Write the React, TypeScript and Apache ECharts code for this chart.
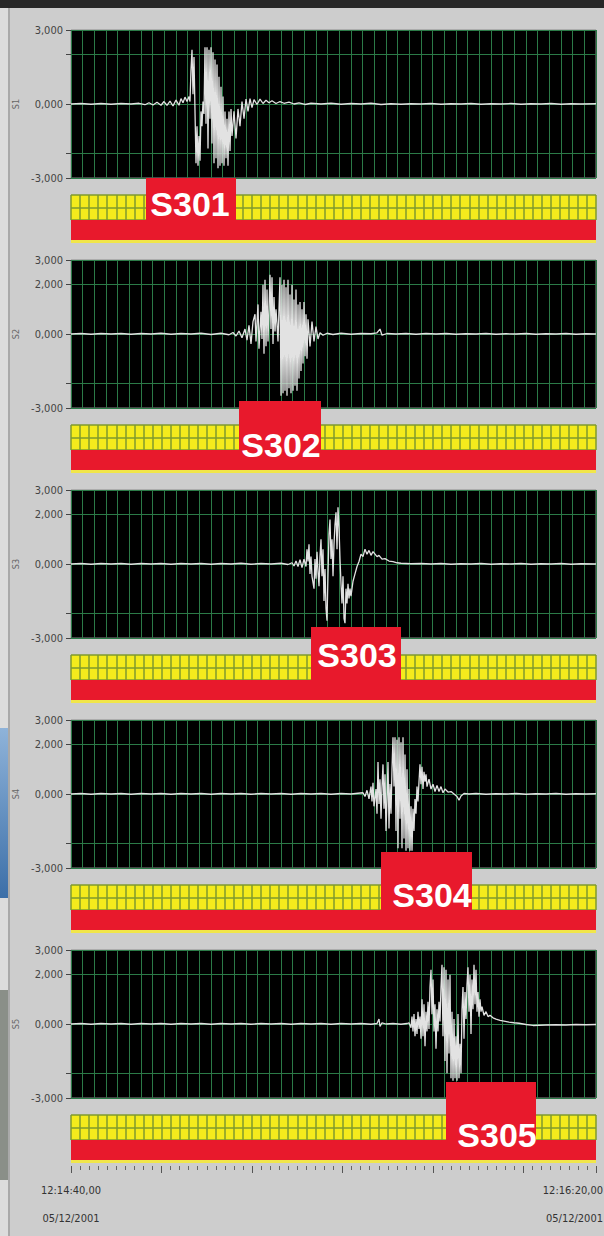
import React, { useEffect, useRef } from 'react';
import * as echarts from 'echarts';

// ---------- data ----------
const seriesNames = ['S1', 'S2', 'S3', 'S4', 'S5'];
const tagNames = ['S301', 'S302', 'S303', 'S304', 'S305'];
const yLabelsFirst = [-3, 0, 3];
const yLabelsOther = [-3, 0, 2, 3];
const yTickValues = [-3, -2, 0, 2, 3];
const timeStartLabel = ['12:14:40,00', '05/12/2001'];
const timeEndLabel = ['12:16:20,00', '05/12/2001'];

// x = sample position along the trace (0..525), y = amplitude
const s1: number[][] = [
  [0, 0], [10, 0.02], [20, -0.01], [30, 0.02], [40, -0.01], [50, 0.02], [60, 0], [68, 0.03], [74, -0.03], [78, 0.05],
  [82, -0.04], [86, 0.07], [90, -0.05], [93, 0.1], [96, -0.06], [99, 0.12], [102, -0.08], [105, 0.16], [108, -0.05], [110, 0.22],
  [112, 0.05], [114, 0.28], [116, 0.1], [118, 0.3], [119, 0.1], [120, 1.4], [121, 2.2], [122, 0.4], [123, 1.9], [124, -0.3],
  [125, -2.4], [126, -0.9], [127, -2.5], [128, -1.3], [129, -2.3], [130, -0.3], [131, -0.9], [132, 0.1], [133, -0.4], [134, 2.3],
  [135, -0.8], [136, 2.3], [137, -1.8], [138, 2.2], [139, -0.6], [140, 2.3], [141, -1.6], [142, 2.1], [143, -2.4], [144, 1.8],
  [145, -2.2], [146, 1.6], [147, -2.6], [148, 1.1], [149, -2.5], [150, 0.7], [151, -2.4], [152, 0.3], [153, -2.5], [154, -0.3],
  [155, -2.2], [156, -0.6], [157, -2.5], [158, -0.3], [159, -1.9], [160, -0.2], [161, -1.3], [163, -0.3], [165, -1.4], [167, -0.2],
  [169, -0.9], [171, 0.1], [173, -0.6], [175, 0.2], [177, -0.3], [179, 0.22], [181, -0.15], [183, 0.18], [186, -0.02], [189, 0.2],
  [192, 0.02], [195, 0.15], [198, 0.05], [201, 0.13], [205, 0.02], [209, 0.1], [213, 0.03], [218, 0.08], [223, 0], [228, 0.05],
  [234, -0.02], [240, 0.03], [250, 0], [260, 0.03], [270, -0.01], [280, 0.02], [290, 0], [300, 0.03], [310, -0.02], [320, 0.01],
  [330, -0.01], [340, 0.01], [350, 0], [360, 0.02], [370, -0.01], [380, 0.01], [390, 0], [400, 0.02], [410, -0.01], [420, 0.01],
  [430, 0], [440, 0.02], [450, -0.01], [460, 0.01], [470, 0], [480, 0.02], [490, -0.01], [500, 0.01], [510, 0], [525, 0.01],
];

const s2: number[][] = [
  [0, 0], [10, 0.02], [20, -0.01], [30, 0.02], [40, 0], [50, 0.02], [60, -0.01], [70, 0.02], [80, 0], [90, 0.03],
  [100, -0.01], [110, 0.02], [120, 0], [130, 0.03], [140, -0.02], [150, 0.03], [158, -0.03], [162, 0.06], [165, -0.08], [168, 0.12],
  [171, -0.15], [174, 0.2], [176, -0.25], [178, 0.35], [180, -0.4], [182, 0.5], [184, 0.8], [185, -0.3], [187, 1.2], [188, -0.6],
  [190, 0.9], [191, -0.2], [192, 2.0], [193, -0.8], [194, 2.2], [195, -0.5], [196, 1.8], [197, -0.3], [199, 2.4], [200, 0.2],
  [201, 2.3], [202, -0.4], [203, 1.5], [204, 0.1], [205, 1.0], [206, 0.4], [207, -0.3], [208, 1.0], [209, 2.3], [210, -2.5],
  [211, 2.0], [212, -2.4], [213, 2.2], [214, -2.3], [215, 1.9], [216, -2.5], [217, 2.2], [218, -2.2], [219, 1.6], [220, -2.4],
  [221, 2.0], [222, -2.3], [223, 1.4], [224, -2.1], [225, 1.8], [226, -2.3], [227, 1.2], [228, -1.8], [229, 1.3], [230, -1.5],
  [231, 1.0], [232, -1.2], [233, 1.3], [234, -0.9], [235, 0.8], [236, -1.0], [237, 0.6], [239, -0.5], [241, 0.5], [243, -0.3],
  [245, 0.3], [247, -0.2], [249, 0.05], [252, -0.05], [256, 0.03], [262, -0.02], [270, 0.03], [280, -0.01], [290, 0.02], [300, 0.01],
  [306, 0.05], [309, 0.2], [311, -0.05], [316, 0.02], [325, 0], [335, 0.02], [345, -0.01], [355, 0.02], [365, 0], [375, 0.02],
  [385, -0.01], [395, 0.01], [405, 0], [415, 0.02], [425, -0.01], [435, 0.01], [445, 0], [455, 0.02], [465, -0.01], [475, 0.01],
  [485, 0], [495, 0.02], [505, -0.01], [515, 0.01], [525, 0],
];

const s3: number[][] = [
  [0, 0], [10, 0.02], [20, -0.01], [30, 0.02], [40, 0], [50, 0.02], [60, -0.01], [70, 0.02], [80, 0], [90, 0.02],
  [100, -0.01], [110, 0.02], [120, 0], [130, 0.02], [140, -0.01], [150, 0.02], [160, 0], [170, 0.03], [180, -0.01], [190, 0.02],
  [200, 0], [210, 0.03], [217, -0.02], [221, 0.05], [223, -0.08], [225, 0.12], [227, -0.1], [229, 0.18], [231, -0.15], [233, 0.2],
  [235, -0.1], [236, 0.6], [237, 0.1], [238, 0.8], [239, -0.4], [240, 0.3], [241, -0.5], [243, -1.0], [244, 0.2], [245, -0.6],
  [246, 0.5], [247, -0.3], [248, -0.9], [249, 0.3], [250, 1.0], [251, -0.5], [252, 0.6], [253, -1.5], [254, -0.2], [255, -1.8],
  [256, -2.3], [257, -0.4], [258, 1.2], [259, 1.8], [260, 0.2], [261, 1.0], [262, -0.5], [263, 0.8], [264, 1.6], [265, 2.1],
  [266, 0.6], [267, 2.3], [268, 1.5], [269, 0.2], [270, -0.8], [271, -1.6], [272, -0.5], [273, -2.2], [274, -2.4], [275, -1.0],
  [276, -1.6], [277, -0.8], [278, -1.4], [279, -1.0], [280, -1.3], [282, -0.7], [284, -0.4], [286, -0.1], [288, 0.1], [290, 0.4],
  [292, 0.3], [294, 0.6], [296, 0.4], [298, 0.55], [300, 0.35], [302, 0.5], [304, 0.4], [306, 0.3], [308, 0.35], [311, 0.2],
  [314, 0.22], [318, 0.12], [322, 0.1], [326, 0.05], [330, 0.03], [340, 0.01], [350, 0.02], [360, 0], [370, 0.02], [380, -0.01],
  [390, 0.01], [400, 0], [410, 0.02], [420, -0.01], [430, 0.01], [440, 0], [450, 0.02], [460, -0.01], [470, 0.01], [480, 0],
  [490, 0.02], [500, -0.01], [510, 0.01], [525, 0],
];

const s4: number[][] = [
  [0, 0], [10, 0.02], [20, -0.01], [30, 0.02], [40, 0], [50, 0.02], [60, -0.01], [70, 0.02], [80, 0], [90, 0.02],
  [100, -0.01], [110, 0.02], [120, 0], [130, 0.02], [140, -0.01], [150, 0.02], [160, 0], [170, 0.02], [180, -0.01], [190, 0.02],
  [200, 0], [210, 0.02], [220, -0.01], [230, 0.02], [240, 0], [250, 0.02], [260, -0.01], [270, 0.02], [280, 0], [287, 0.03],
  [292, 0.05], [294, -0.1], [296, 0.15], [298, -0.2], [300, 0.3], [301, -0.3], [302, 0.45], [303, -0.5], [305, 0.2], [306, -0.8],
  [307, 1.3], [308, -0.4], [309, 0.6], [310, -1.0], [311, 0.3], [312, 1.2], [313, -0.6], [314, 0.8], [315, -1.5], [316, -0.2],
  [317, 1.3], [318, -1.4], [319, 0.4], [320, -0.8], [321, 1.0], [322, 2.3], [323, 0.3], [324, 2.3], [325, -1.5], [326, 2.2],
  [327, -2.2], [328, 2.3], [329, -1.0], [330, 2.1], [331, -2.2], [332, 2.3], [333, -1.8], [334, 1.6], [335, -2.3], [336, 1.0],
  [337, -2.2], [338, 0.2], [339, -2.3], [340, -0.5], [341, -2.3], [342, -0.6], [343, -1.5], [344, -0.2], [345, -0.8], [346, 0.3],
  [347, -0.3], [348, 0.5], [349, 1.2], [350, 0.4], [351, 1.1], [352, 0.2], [353, 0.9], [354, 0.5], [355, 0.8], [356, 0.3],
  [358, 0.6], [360, 0.2], [362, 0.4], [364, 0.1], [366, 0.35], [368, 0.1], [370, 0.3], [372, 0.05], [374, 0.2], [377, 0.08],
  [380, 0.1], [383, 0], [386, -0.1], [388, -0.25], [390, -0.08], [393, 0.02], [398, 0], [405, 0.02], [415, -0.01], [425, 0.01],
  [435, 0], [445, 0.02], [455, -0.01], [465, 0.01], [475, 0], [485, 0.02], [495, -0.01], [505, 0.01], [515, 0], [525, 0.01],
];

const s5: number[][] = [
  [0, 0], [10, 0.02], [20, -0.01], [30, 0.02], [40, 0], [50, 0.02], [60, -0.01], [70, 0.02], [80, 0], [90, 0.02],
  [100, -0.01], [110, 0.02], [120, 0], [130, 0.02], [140, -0.01], [150, 0.02], [160, 0], [170, 0.02], [180, -0.01], [190, 0.02],
  [200, 0], [210, 0.02], [220, -0.01], [230, 0.02], [240, 0], [250, 0.02], [260, -0.01], [270, 0.02], [280, 0], [290, 0.02],
  [300, -0.01], [306, 0.02], [308, 0.2], [309, -0.1], [311, 0.05], [315, 0], [322, 0.02], [330, -0.01], [336, 0.02], [338, 0.05],
  [340, -0.15], [341, 0.3], [342, -0.3], [343, 0.4], [344, -0.5], [345, 0.2], [346, -0.4], [347, 0.5], [348, -0.2], [349, 0.3],
  [350, -0.6], [351, 1.0], [352, -0.5], [353, 0.8], [354, -0.9], [355, 0.5], [356, -0.3], [357, 0.9], [358, -0.2], [359, 1.5],
  [360, 2.2], [361, 0.4], [362, 1.8], [363, -0.3], [364, 0.8], [365, -1.0], [366, 0.6], [367, -0.3], [368, 0.9], [369, 0.1],
  [370, 1.5], [371, 2.4], [372, -0.5], [373, 2.3], [374, -1.5], [375, 2.2], [376, -2.0], [377, 1.8], [378, -1.2], [379, 2.0],
  [380, -2.2], [381, 0.5], [382, -2.3], [383, 0.2], [384, -2.2], [385, -0.5], [386, -2.3], [387, 0.4], [388, -2.2], [389, -0.8],
  [390, -2.0], [391, 0.6], [392, 1.5], [393, -0.6], [394, 1.3], [395, 0.2], [396, 1.6], [397, 2.3], [398, 0.5], [399, 2.0],
  [400, -0.4], [401, 1.8], [402, 0.6], [403, 2.4], [404, 0.8], [405, 2.2], [406, 0.5], [407, 1.3], [408, 0.3], [409, 1.0],
  [410, 0.5], [411, 0.7], [413, 0.35], [415, 0.5], [417, 0.3], [419, 0.35], [422, 0.25], [425, 0.2], [429, 0.15], [433, 0.12],
  [438, 0.08], [443, 0.05], [448, 0.03], [455, -0.02], [462, -0.06], [468, -0.05], [475, -0.04], [485, -0.03], [495, -0.04], [505, -0.02],
  [515, -0.03], [525, -0.02],
];

const waves = [s1, s2, s3, s4, s5];

// ---------- layout ----------
const LEFT = 71;
const WIDTH = 525;
const PERIOD = 230;
const PLOT_TOP = 30;
const PLOT_H = 148;
const YEL_TOP = 195;
const YEL_H = 25;
const RED_TOP = 220;
const RED_H = 20;
const tagBoxes = [
  { x: 146, y: 178, w: 90, h: 42, tx: 190, ty: 204 },
  { x: 239, y: 401, w: 82, h: 49, tx: 281, ty: 445 },
  { x: 311, y: 627, w: 90, h: 53, tx: 357, ty: 655 },
  { x: 381, y: 852, w: 91, h: 58, tx: 432, ty: 895 },
  { x: 446, y: 1082, w: 90, h: 58, tx: 497, ty: 1135 },
];

const fmt = (v: number) => v.toFixed(3).replace('.', ',');
const labelFont = "'Liberation Sans Narrow', 'DejaVu Sans Condensed', 'Liberation Sans', Arial, sans-serif";

export default function App() {
  const ref = useRef<HTMLDivElement>(null);
  useEffect(() => {
    if (!ref.current) return;
    const chart = echarts.init(ref.current, null, { renderer: 'svg' });
    const grids: any[] = [];
    const xAxes: any[] = [];
    const yAxes: any[] = [];
    const series: any[] = [];
    const graphics: any[] = [];

    for (let i = 0; i < 5; i++) {
      grids.push({
        left: LEFT, top: PLOT_TOP + PERIOD * i, width: WIDTH, height: PLOT_H,
        show: true, backgroundColor: '#000000', borderColor: '#8a8a8a', borderWidth: 1,
      });
      xAxes.push({
        gridIndex: i, type: 'value', min: 0, max: WIDTH, interval: WIDTH / 45,
        axisLine: { show: false }, axisTick: { show: false }, axisLabel: { show: false },
        splitLine: { show: true, lineStyle: { color: '#2b7a47', width: 1 } },
      });
      yAxes.push({
        gridIndex: i, type: 'value', min: -3, max: 3, interval: 0.5,
        name: seriesNames[i], nameLocation: 'middle', nameGap: 42, nameRotate: 90,
        nameTextStyle: { fontSize: 9, color: '#666', fontFamily: labelFont },
        axisLine: { show: false },
        axisTick: { show: true, customValues: yTickValues, length: 5, lineStyle: { color: '#444' } },
        axisLabel: {
          customValues: i === 0 ? yLabelsFirst : yLabelsOther,
          formatter: (v: number) => fmt(v), fontSize: 11, color: '#444', margin: 8, fontFamily: labelFont,
        },
        splitLine: { show: true, lineStyle: { color: '#2b7a47', width: 1 } },
      });
      series.push({
        type: 'line', xAxisIndex: i, yAxisIndex: i, data: waves[i], symbol: 'none', showSymbol: false,
        lineStyle: { color: '#e2e2e2', width: 1.3 }, silent: true, z: 3,
      });
    }
    for (let i = 0; i < 5; i++) {
      grids.push({
        left: LEFT, top: YEL_TOP + PERIOD * i, width: WIDTH, height: YEL_H,
        show: true, backgroundColor: '#f4eb1c', borderWidth: 0,
      });
      xAxes.push({
        gridIndex: 5 + i, type: 'value', min: 0, max: WIDTH, interval: WIDTH / 58,
        axisLine: { show: false }, axisTick: { show: false }, axisLabel: { show: false },
        splitLine: { show: true, lineStyle: { color: '#7f9a2e', width: 1.5 } },
      });
      yAxes.push({
        gridIndex: 5 + i, type: 'value', min: 0, max: 2, interval: 1,
        axisLine: { show: false }, axisTick: { show: false }, axisLabel: { show: false },
        splitLine: { show: true, lineStyle: { color: '#7f9a2e', width: 1.5 } },
      });
      graphics.push({
        type: 'rect', z: 50, shape: { x: LEFT, y: RED_TOP + PERIOD * i, width: WIDTH, height: RED_H },
        style: { fill: '#e8192c' },
      });
      graphics.push({
        type: 'rect', z: 50, shape: { x: LEFT, y: RED_TOP + RED_H + PERIOD * i, width: WIDTH, height: 3 },
        style: { fill: '#f1e64a' },
      });
      const b = tagBoxes[i];
      graphics.push({
        type: 'rect', z: 60, shape: { x: b.x, y: b.y, width: b.w, height: b.h },
        style: { fill: '#e8192c' },
      });
      graphics.push({
        type: 'text', z: 61, x: b.tx, y: b.ty,
        style: {
          text: tagNames[i], fill: '#ffffff', fontSize: 34, fontWeight: 'bold',
          fontFamily: "'Liberation Sans', Arial, sans-serif", align: 'center', verticalAlign: 'middle',
        },
      });
    }
    // bottom time axis (ticks)
    grids.push({ left: LEFT, top: 1165, width: WIDTH, height: 1, show: false });
    xAxes.push({
      gridIndex: 10, type: 'value', min: 0, max: WIDTH, interval: WIDTH / 58,
      axisLine: { show: false },
      axisTick: { show: true, length: 4, lineStyle: { color: '#666' } },
      axisLabel: { show: false },
      splitLine: { show: false },
    });
    xAxes.push({
      gridIndex: 10, type: 'value', min: 0, max: WIDTH, interval: (WIDTH / 58) * 10, position: 'bottom', offset: 0,
      axisLine: { show: false },
      axisTick: { show: true, length: 7, lineStyle: { color: '#555' } },
      axisLabel: { show: false },
      splitLine: { show: false },
    });
    yAxes.push({ gridIndex: 10, type: 'value', min: 0, max: 1, show: false });

    // time labels at both ends of the time axis
    [timeStartLabel, timeEndLabel].forEach((lines, k) => {
      lines.forEach((txt, j) => {
        graphics.push({
          type: 'text', z: 10, x: k === 0 ? LEFT : 603, y: 1190 + j * 28,
          style: {
            text: txt, fill: '#333', fontSize: 11, fontFamily: labelFont,
            align: k === 0 ? 'center' : 'right', verticalAlign: 'middle',
          },
        });
      });
    });

    // surrounding window decoration
    graphics.push({ type: 'rect', z: 1, shape: { x: 0, y: 0, width: 604, height: 8 }, style: { fill: '#272727' } });
    graphics.push({ type: 'rect', z: 1, shape: { x: 0, y: 8, width: 8, height: 1228 }, style: { fill: '#dcdcdc' } });
    graphics.push({ type: 'rect', z: 1, shape: { x: 8, y: 8, width: 2, height: 1228 }, style: { fill: '#a9a9a9' } });
    graphics.push({
      type: 'rect', z: 1, shape: { x: 0, y: 728, width: 8, height: 170 },
      style: { fill: new echarts.graphic.LinearGradient(0, 0, 0, 1, [{ offset: 0, color: '#8fb3d9' }, { offset: 1, color: '#3c6fa8' }]) },
    });
    graphics.push({ type: 'rect', z: 1, shape: { x: 0, y: 990, width: 8, height: 190 }, style: { fill: '#8a8f88' } });

    chart.setOption({
      animation: false,
      backgroundColor: '#cdcdcd',
      grid: grids,
      xAxis: xAxes,
      yAxis: yAxes,
      series,
      graphic: { elements: graphics },
    });
    return () => chart.dispose();
  }, []);
  return (
    <div
      ref={ref}
      style={{ position: 'absolute', left: 0, top: 0, width: 604, height: 1236 }}
    />
  );
}
